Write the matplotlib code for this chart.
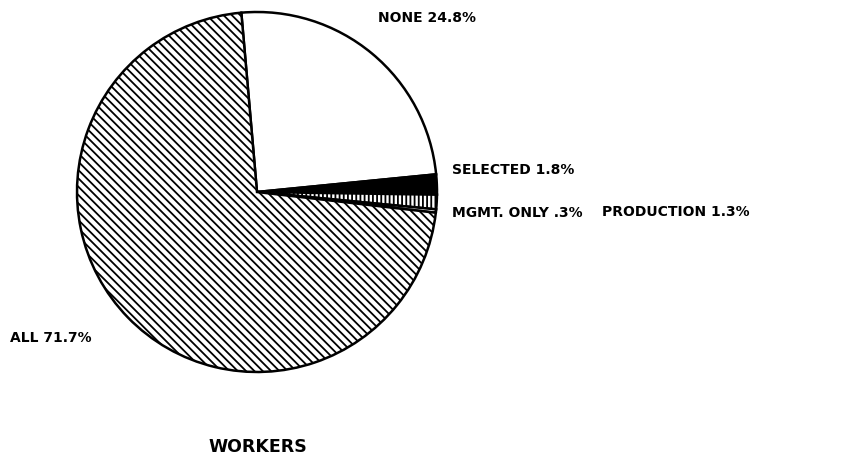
import matplotlib.pyplot as plt

# Data
labels = ["NONE 24.8%", "SELECTED 1.8%", "PRODUCTION 1.3%", "MGMT. ONLY .3%", "ALL 71.7%"]
values = [24.8, 1.8, 1.3, 0.3, 71.7]
colors = ["white", "black", "white", "white", "white"]
hatches = ["", "", "||||", "", "\\\\\\\\"]

plt.rcParams['hatch.linewidth'] = 1.3
plt.rcParams['font.family'] = ['DejaVu Sans']

W, H = 849, 463
fig = plt.figure(figsize=(W / 100, H / 100), dpi=100)
ax = fig.add_axes([0, 0, 1, 1])

wedges, _ = ax.pie(values, colors=colors, startangle=95, counterclock=False,
                   center=(257, H - 192), radius=180,
                   wedgeprops=dict(edgecolor='black', linewidth=1.8))
for w, h in zip(wedges, hatches):
    w.set_hatch(h)
ax.set_xlim(0, W)
ax.set_ylim(0, H)
ax.set_aspect('equal')
ax.axis('off')

# Labels
font = dict(fontsize=10, fontweight='bold', va='center', ha='left')
ax.text(378, H - 18, labels[0], **font)
ax.text(452, H - 170, labels[1], **font)
ax.text(602, H - 212, labels[2], **font)
ax.text(452, H - 213, labels[3], **font)
ax.text(10, H - 338, labels[4], **font)
ax.text(258, H - 447, "WORKERS", fontsize=12.5, fontweight='bold', ha='center', va='center')

fig.savefig("out.png", dpi=100, facecolor='white')
